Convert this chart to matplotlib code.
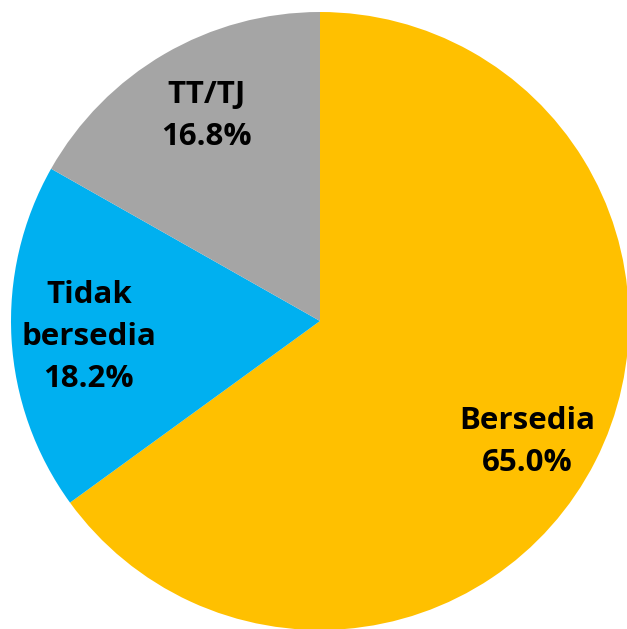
import matplotlib.pyplot as plt

labels = ['Bersedia', 'Tidak\nbersedia', 'TT/TJ']
values = [65.0, 18.2, 16.8]
colors = ['#FFC000', '#00B0F0', '#A5A5A5']

# label centres in axes data units (radius = 1), as placed in the original
label_pos = [(0.670, -0.392), (-0.748, -0.052), (-0.366, 0.663)]

fig = plt.figure(figsize=(6.27, 6.29), dpi=100)
# centre at (320, 321) px from top-left, radius ~309 px
r = 309
ax = fig.add_axes([(320 - r) / 627, (629 - 321 - r) / 629, 2 * r / 627, 2 * r / 629])

texts = [f'{l}\n{v:.1f}%' for l, v in zip(labels, values)]
wedges, txts = ax.pie(values, colors=colors, startangle=90, counterclock=False,
                      labels=texts, labeldistance=0.765, radius=1.0,
                      wedgeprops=dict(linewidth=0))
for t, pos in zip(txts, label_pos):
    t.set_position(pos)
    t.set_horizontalalignment('center')
    t.set_verticalalignment('center')
    t.set_fontsize(22.5)
    t.set_fontweight('bold')
    t.set_fontfamily('Open Sans')
    t.set_linespacing(1.52)

ax.set_xlim(-1, 1)
ax.set_ylim(-1, 1)
ax.set_aspect('auto')
ax.axis('off')

fig.savefig('out.png', dpi=100)
